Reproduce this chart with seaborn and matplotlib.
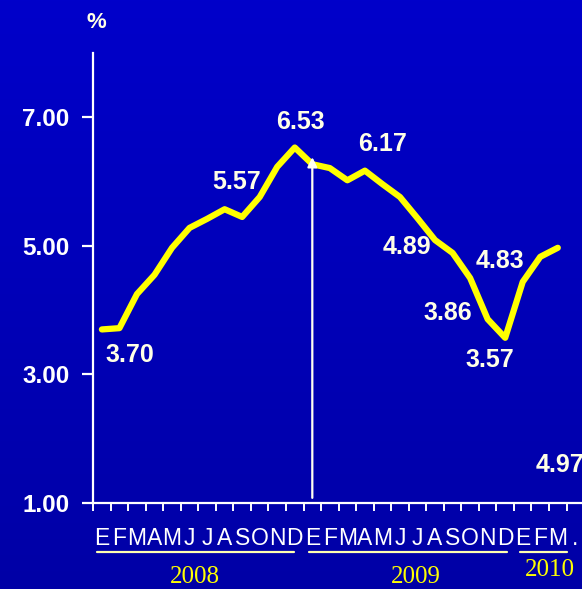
import numpy as np
import pandas as pd
import seaborn as sns
import matplotlib.pyplot as plt
from matplotlib.colors import LinearSegmentedColormap

# monthly rate, Jan 2008 - Mar 2010
months_2008 = ["E", "F", "M", "A", "M", "J", "J", "A", "S", "O", "N", "D"]
months_2009 = ["E", "F", "M", "A", "M", "J", "J", "A", "S", "O", "N", "D"]
months_2010 = ["E", "F", "M", "."]
rate_2008 = [3.70, 3.72, 4.25, 4.55, 4.97, 5.28, 5.42, 5.57, 5.45, 5.76, 6.23, 6.53]
rate_2009 = [6.27, 6.21, 6.02, 6.17, 5.96, 5.76, 5.43, 5.09, 4.89, 4.50, 3.86, 3.57]
rate_2010 = [4.44, 4.83, 4.97]
years = ["2008", "2009", "2010"]
y_ticks = [1.0, 3.0, 5.0, 7.0]

# annotated values: (month index, text, label x, label y)
annotations = [
    (0, "3.70", 1.6, 3.31),
    (11, "6.53", 11.3, 6.92),
    (7, "5.57", 7.7, 5.99),
    (15, "6.17", 16.0, 6.58),
    (20, "4.89", 17.4, 4.99),
    (25, "4.83", 22.7, 4.76),
    (22, "3.86", 19.7, 3.96),
    (23, "3.57", 22.1, 3.23),
    (26, "4.97", 26.1, 1.59),
]

values = rate_2008 + rate_2009 + rate_2010
df = pd.DataFrame({"idx": np.arange(len(values)), "rate": values})
month_labels = months_2008 + months_2009 + months_2010

sns.set_style("white")
plt.rcParams["font.family"] = ["Liberation Sans", "DejaVu Sans"]

fig = plt.figure(figsize=(5.82, 5.89), dpi=100)

# blue gradient background
bg = fig.add_axes([0, 0, 1, 1], zorder=0)
grad = np.linspace(0, 1, 256).reshape(-1, 1)
cmap = LinearSegmentedColormap.from_list("bg", ["#0000CA", "#0000A6"])
bg.imshow(grad, aspect="auto", cmap=cmap, extent=[0, 1, 0, 1])
bg.axis("off")

ax = fig.add_axes([0.160, 0.146, 0.840, 0.764], zorder=1)
ax.patch.set_alpha(0)

sns.lineplot(data=df, x="idx", y="rate", ax=ax, color="#FFFF00", linewidth=4.5,
             solid_capstyle="round", solid_joinstyle="round")

ax.set_xlim(-0.5, 27.38)
ax.set_ylim(1, 8)

for s in ["top", "right"]:
    ax.spines[s].set_visible(False)
for s in ["left", "bottom"]:
    ax.spines[s].set_color("white")
    ax.spines[s].set_linewidth(1.6)

ax.set_yticks(y_ticks)
ax.set_yticklabels([f"{v:.2f}" for v in y_ticks], fontsize=17.5, fontweight="bold", color="white")
ax.tick_params(axis="y", left=True, direction="out", length=8, width=1.6, color="white", pad=9)

# boundaries as major ticks, month names on minor ticks
ax.set_xticks(np.arange(-0.5, 27.5, 1.0))
ax.set_xticklabels([])
ax.tick_params(axis="x", which="major", bottom=True, direction="out", length=6, width=1.4, color="white")
ax.set_xticks(np.arange(len(month_labels)), minor=True)
ax.set_xticklabels(month_labels, minor=True, fontsize=16.5, color="white")
ax.tick_params(axis="x", which="minor", bottom=True, length=0, pad=17)
ax.set_xlabel("")
ax.set_ylabel("")

# year underlines and labels
xt = ax.get_xaxis_transform()
year_spans = [(-0.29, 10.95), (11.8, 23.1), (23.85, 26.5)]
year_pos = [(5.3, -0.164), (17.9, -0.164), (25.55, -0.149)]
for (x0, x1), (xc, yc), yr in zip(year_spans, year_pos, years):
    ax.plot([x0, x1], [-0.109, -0.109], transform=xt, color="#FFFFB0", lw=1.6, clip_on=False)
    ax.text(xc, yc, yr, transform=xt, ha="center", va="center", color="#FFFF00",
            fontsize=18, family="Liberation Serif")

# value labels
for i, txt, lx, ly in annotations:
    ax.text(lx, ly, txt, ha="center", va="center", color="#FFFFE6",
            fontsize=18, fontweight="bold")

# arrow at start of 2009
ax.annotate("", xy=(12, 6.38), xytext=(12, 1.08),
            arrowprops=dict(arrowstyle="-|>", color="#FFFFF0", lw=1.6,
                            mutation_scale=14, shrinkA=0, shrinkB=0))

fig.text(96 / 582, 1 - 22 / 589, "%", ha="center", va="center", color="#FFFFE6",
         fontsize=16, fontweight="bold")

fig.savefig("out.png", dpi=100)
